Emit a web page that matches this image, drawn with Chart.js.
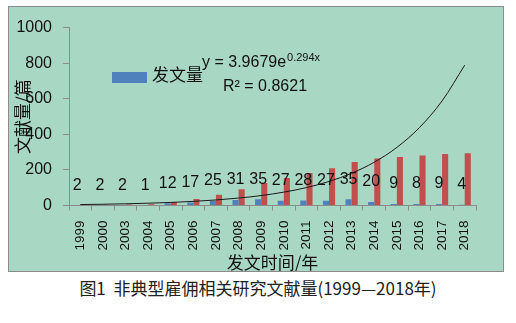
<!DOCTYPE html>
<html>
<head>
<meta charset="utf-8">
<script src="https://cdn.jsdelivr.net/npm/chart.js@4"></script>
<style>
    body { margin: 0; background: #fff; width: 516px; height: 323px; position: relative; overflow: hidden; }
    #box { position: absolute; left: 8px; top: 6px; width: 494px; height: 264px; border: 1px solid #8c8c8c; background: #a8d8c4; }
    #caption { position: absolute; left: 0; top: 275px; width: 516px; text-align: center; white-space: pre;
        font: 17px "Noto Sans CJK SC", sans-serif; color: #222; }
</style>
</head>
<body>
<div id="box"><canvas id="docChart" width="494" height="264"></canvas></div>
<div id="caption">图1  非典型雇佣相关研究文献量(1999—2018年)</div>
<script>
// 年份
const years = ["1999", "2000", "2003", "2004", "2005", "2006", "2007", "2008", "2009",
    "2010", "2011", "2012", "2013", "2014", "2015", "2016", "2017", "2018"];
// 发文量 (每年)
const counts = [2, 2, 2, 1, 12, 17, 25, 31, 35, 27, 28, 27, 35, 20, 9, 8, 9, 4];
// 累计发文量 (红色柱)
const cumulative = [2, 4, 6, 7, 19, 36, 61, 92, 127, 154, 182, 209, 244, 264, 273, 281, 290, 294];
// 指数趋势线 y = 3.9679e^0.294x
const trend = [5.3, 7.1, 9.6, 12.9, 17.3, 23.2, 31.1, 41.7, 55.9, 75.1, 100.7, 135.1,
    181.3, 243.3, 326.5, 438.1, 587.8, 788.6];
const yTicks = [0, 200, 400, 600, 800, 1000];

const numFont = '"Liberation Sans", Arial, sans-serif';
const cjkFont = '"Noto Sans CJK SC", sans-serif';

// 柱顶数值 + 图例 + 公式
const extras = {
    id: 'extras',
    afterDatasetsDraw(chart) {
        const ctx = chart.ctx;
        ctx.save();
        ctx.fillStyle = '#111';
        ctx.font = '16px ' + numFont;
        ctx.textAlign = 'center';
        ctx.textBaseline = 'middle';
        chart.getDatasetMeta(0).data.forEach((bar, i) => {
            ctx.fillText(String(counts[i]), bar.x, bar.y - 20);
        });

        // legend
        ctx.fillStyle = '#4f81bd';
        ctx.fillRect(103, 65, 35, 11);
        ctx.fillStyle = '#111';
        ctx.textAlign = 'left';
        ctx.font = '17px ' + cjkFont;
        ctx.fillText('发文量', 143, 68);

        // equation
        ctx.font = '16px ' + numFont;
        let s = 'y = 3.9679e';
        ctx.fillText(s, 193, 56);
        let w = ctx.measureText(s).width;
        ctx.font = '11px ' + numFont;
        ctx.fillText('0.294x', 194 + w, 51);
        ctx.font = '16px ' + numFont;
        ctx.fillText('R² = 0.8621', 214, 80);
        ctx.restore();
    }
};

new Chart(document.getElementById('docChart'), {
    type: 'bar',
    data: {
        labels: years,
        datasets: [
            {
                label: '发文量',
                data: counts,
                backgroundColor: '#4f81bd',
                categoryPercentage: 0.54,
                barPercentage: 1,
                order: 2
            },
            {
                label: '累计',
                data: cumulative,
                backgroundColor: '#c0504d',
                categoryPercentage: 0.54,
                barPercentage: 1,
                order: 2
            },
            {
                type: 'line',
                label: '趋势',
                data: trend,
                borderColor: '#1a1a1a',
                borderWidth: 1,
                pointRadius: 0,
                cubicInterpolationMode: 'monotone',
                fill: false,
                order: 1
            }
        ]
    },
    options: {
        responsive: false,
        animation: false,
        layout: { padding: { top: 12, right: 27, left: 0, bottom: 0 } },
        plugins: {
            legend: { display: false },
            tooltip: { enabled: false }
        },
        scales: {
            x: {
                grid: { drawOnChartArea: false, color: '#8c8c8c', tickLength: 5, offset: true },
                border: { color: '#8c8c8c' },
                ticks: {
                    color: '#111',
                    minRotation: 90,
                    maxRotation: 90,
                    padding: 10,
                    autoSkip: false,
                    font: { size: 13.5, family: numFont }
                },
                title: {
                    display: true,
                    text: '发文时间/年',
                    color: '#111',
                    padding: { top: 0, bottom: 0 },
                    font: { size: 17, family: cjkFont, lineHeight: 1 }
                },
                afterFit(scale) { scale.height = 65.5; }
            },
            y: {
                min: 0,
                max: 1000,
                afterBuildTicks(scale) { scale.ticks = yTicks.map(v => ({ value: v })); },
                grid: { drawOnChartArea: false, color: '#8c8c8c', tickLength: 6 },
                border: { color: '#8c8c8c' },
                ticks: {
                    color: '#111',
                    padding: 11,
                    font: { size: 16, family: numFont },
                    callback: v => String(v)
                },
                title: {
                    display: true,
                    text: '文献量/篇',
                    color: '#111',
                    padding: { top: 3, bottom: 0 },
                    font: { size: 17, family: cjkFont }
                },
                afterFit(scale) { scale.width = 60; }
            }
        }
    },
    plugins: [extras]
});
</script>
</body>
</html>
